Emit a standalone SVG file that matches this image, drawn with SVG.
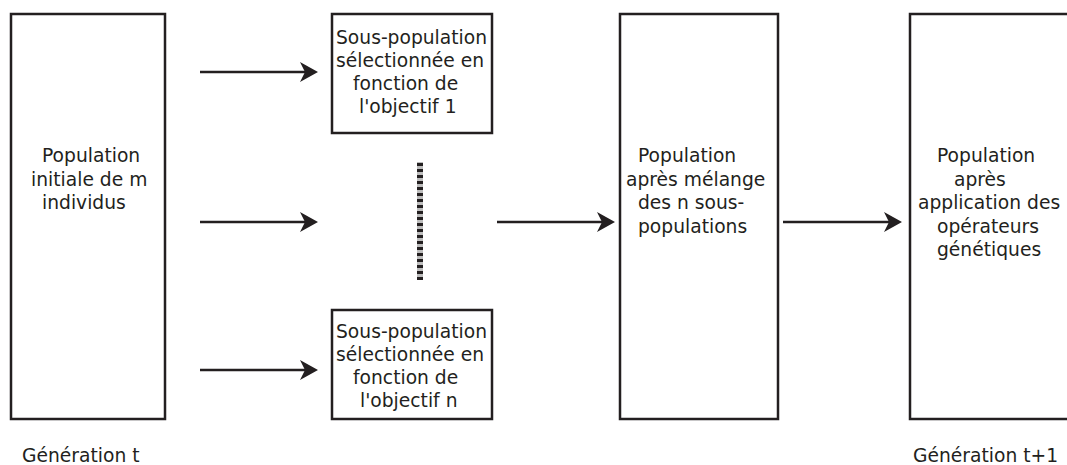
<svg xmlns="http://www.w3.org/2000/svg" width="1067" height="465" viewBox="0 0 1067 465">
  <style>
    .box { fill: #ffffff; stroke: #231f20; stroke-width: 2.5; }
    .lbl { font-family: "DejaVu Sans", sans-serif; font-size: 18.7px; fill: #231f20; }
    .arr { stroke: #231f20; stroke-width: 2.5; fill: none; marker-end: url(#head); }
  </style>
  <defs>
    <marker id="head" viewBox="0 0 18 20" refX="5" refY="10" markerWidth="18" markerHeight="20" markerUnits="userSpaceOnUse" orient="auto">
      <path d="M0,0 L18,10 L0,20 L5,10 z" fill="#231f20"/>
    </marker>
  </defs>
  <rect width="1067" height="465" fill="#ffffff"/>

  <g id="pop-initiale">
    <rect class="box" x="11" y="14" width="154" height="405"/>
    <text class="lbl" x="42" y="162">Population</text>
    <text class="lbl" x="31" y="185.5">initiale de m</text>
    <text class="lbl" x="42" y="209">individus</text>
  </g>

  <g id="sous-pop-1">
    <rect class="box" x="332" y="14" width="160" height="119"/>
    <text class="lbl" x="336" y="44">Sous-population</text>
    <text class="lbl" x="336" y="67">sélectionnée en</text>
    <text class="lbl" x="353" y="90">fonction de</text>
    <text class="lbl" x="359" y="113">l'objectif 1</text>
  </g>

  <g id="sous-pop-n">
    <rect class="box" x="332" y="310" width="160" height="109"/>
    <text class="lbl" x="336" y="338">Sous-population</text>
    <text class="lbl" x="336" y="361">sélectionnée en</text>
    <text class="lbl" x="353" y="384">fonction de</text>
    <text class="lbl" x="360" y="407">l'objectif n</text>
  </g>

  <g id="ellipsis">
    <line x1="420" y1="162" x2="420" y2="280" stroke="#bdbdbd" stroke-width="6"/>
    <line x1="420" y1="163" x2="420" y2="280" stroke="#231f20" stroke-width="6" stroke-dasharray="3 3"/>
  </g>

  <g id="pop-melange">
    <rect class="box" x="620" y="14" width="158" height="405"/>
    <text class="lbl" x="638" y="162">Population</text>
    <text class="lbl" x="626" y="185.5">après mélange</text>
    <text class="lbl" x="638" y="209">des n sous-</text>
    <text class="lbl" x="638" y="232.5">populations</text>
  </g>

  <g id="pop-operateurs">
    <rect class="box" x="910" y="14" width="180" height="405"/>
    <text class="lbl" x="937" y="162">Population</text>
    <text class="lbl" x="954" y="185.5">après</text>
    <text class="lbl" x="918" y="209">application des</text>
    <text class="lbl" x="937" y="232.5">opérateurs</text>
    <text class="lbl" x="937" y="256">génétiques</text>
  </g>

  <g id="gen-t">
    <text class="lbl" x="22" y="462">Génération t</text>
  </g>
  <g id="gen-t1">
    <text class="lbl" x="913" y="462">Génération t+1</text>
  </g>

  <g id="connectors">
    <line class="arr" x1="200" y1="72" x2="305" y2="72"/>
    <line class="arr" x1="200" y1="222" x2="305" y2="222"/>
    <line class="arr" x1="200" y1="370" x2="305" y2="370"/>
    <line class="arr" x1="497" y1="222" x2="602" y2="222"/>
    <line class="arr" x1="783" y1="222" x2="889" y2="222"/>
  </g>
</svg>
